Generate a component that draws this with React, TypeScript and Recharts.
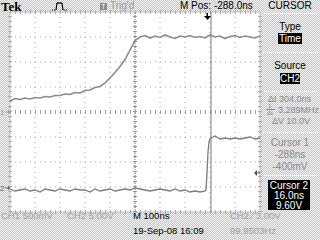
import React from "react";
import { LineChart, Line, XAxis, YAxis, CartesianGrid, ReferenceLine } from "recharts";

// ---- data (time in ns relative to trigger, values in volts) ----
const CH1_TIME_NS = [
  -788, -768, -748, -728, -708, -688, -668, -648, -628, -608,
  -588, -568, -548, -528, -508, -488, -468, -448, -428, -408,
  -388, -368, -348, -328, -308, -288, -268, -248, -228, -208,
  -188, -168, -148, -128, -108, -88, -68, -48, -28, -8,
  12, 32, 52, 72, 92, 112, 132, 152, 172, 192, 212,
];
const CH1_VOLTS = [
  0.22, 0.27, 0.25, 0.28, 0.26, 0.29, 0.28, 0.31, 0.30, 0.33,
  0.33, 0.36, 0.35, 0.39, 0.38, 0.43, 0.44, 0.49, 0.51, 0.58,
  0.68, 0.79, 0.91, 1.05, 1.24, 1.43, 1.50, 1.53, 1.48, 1.52,
  1.49, 1.54, 1.50, 1.47, 1.52, 1.50, 1.53, 1.49, 1.51, 1.48,
  1.54, 1.50, 1.52, 1.47, 1.51, 1.53, 1.49, 1.52, 1.50, 1.48, 1.52,
];
const CH2_TIME_NS = [
  -788, -768, -748, -728, -708, -688, -668, -648, -628, -608,
  -588, -568, -548, -528, -508, -488, -468, -448, -428, -408,
  -388, -368, -348, -328, -308, -288, -268, -248, -228, -208,
  -188, -168, -148, -128, -108, -88, -68, -48, -28, -8,
  -4, 0, 4, 8, 12, 16, 32, 52, 72, 92, 112, 132, 152, 172, 192, 212,
];
const CH2_VOLTS = [
  -0.2, -0.6, -0.4, -0.2, -0.6, -0.4, -0.8, -0.2, -0.4, -0.6,
  -0.2, -0.4, -0.6, -0.2, -0.4, -0.4, -0.8, -0.2, -0.6, -0.4,
  -0.2, -0.6, -0.4, -0.2, -0.4, 0.0, -0.2, -0.4, -0.6, -0.4,
  -0.2, -0.4, -0.6, -0.2, -0.6, -0.4, -0.8, -0.6, -0.8, -0.6,
  -0.4, 3.0, 7.2, 9.2, 9.8, 10.0, 10.4, 9.8, 10.0, 9.8, 10.0, 9.8, 10.0, 10.2, 9.8, 10.0,
];

const X_TICKS_NS = [-788, -688, -588, -488, -388, -288, -188, -88, 12, 112, 212];
const Y_TICKS_DIV = [-4, -3, -2, -1, 0, 1, 2, 3, 4];

const CH1_VOLTS_PER_DIV = 0.5;
const CH2_VOLTS_PER_DIV = 5;
const CH1_OFFSET_DIV = 0;
const CH2_OFFSET_DIV = -3.04;
const TRIGGER_LEVEL_V = 3.0;
const TRIGGER_NS = 0;
const CURSOR1_NS = -288;
const CURSOR2_NS = 16;

// ---- build table ----
const rowMap = new Map<number, any>();
CH1_TIME_NS.forEach((t, i) => {
  const r = rowMap.get(t) ?? { t };
  r.ch1 = CH1_VOLTS[i] / CH1_VOLTS_PER_DIV + CH1_OFFSET_DIV;
  rowMap.set(t, r);
});
CH2_TIME_NS.forEach((t, i) => {
  const r = rowMap.get(t) ?? { t };
  r.ch2 = CH2_VOLTS[i] / CH2_VOLTS_PER_DIV + CH2_OFFSET_DIV;
  rowMap.set(t, r);
});
const DATA = Array.from(rowMap.values()).sort((a, b) => a.t - b.t);

const FONT = "'Liberation Sans', Arial, sans-serif";
const GRAY_TXT = "#8a8a8a";

function Txt(props: any) {
  const { x, y, children, color = "#000", size = 9, anchor = "left", bold = false, family = FONT } = props;
  const style: React.CSSProperties = {
    position: "absolute",
    top: y - size / 2,
    fontSize: size,
    lineHeight: `${size}px`,
    color,
    whiteSpace: "nowrap",
    fontFamily: family,
    fontWeight: bold ? 700 : 400,
  };
  if (anchor === "left") style.left = x;
  else if (anchor === "center") {
    style.left = x;
    style.transform = "translateX(-50%)";
  } else style.right = 320 - x;
  return <div style={style}>{children}</div>;
}

function InvBox(props: any) {
  const { x, y, w, h, children } = props;
  return (
    <div style={{ position: "absolute", left: x, top: y, width: w, height: h, background: "#000" }}>
      {children}
    </div>
  );
}

function Sep(props: any) {
  return <div style={{ position: "absolute", left: 263, top: props.y, width: 55, height: 1, background: "#f2f2f2" }} />;
}

const ChannelMarker = (props: any) => {
  const vb = props.viewBox;
  if (!vb) return null;
  const x = vb.x;
  const y = vb.y;
  return (
    <g fill={props.color}>
      <text x={x - 10} y={y + 3} fontSize={8} fontFamily={FONT}>{props.text}</text>
      <path d={`M${x - 5},${y - 0.5} L${x - 2},${y - 0.5} L${x - 2},${y - 2.5} L${x},${y} L${x - 2},${y + 2.5} L${x - 2},${y + 0.5} L${x - 5},${y + 0.5} Z`} />
    </g>
  );
};

const TrigPosMarker = (props: any) => {
  const vb = props.viewBox;
  if (!vb) return null;
  const x = vb.x;
  const y = vb.y;
  return (
    <g fill="#000">
      <rect x={x - 0.5} y={y + 1} width={1.5} height={4} />
      <path d={`M${x - 3},${y + 4} L${x + 4},${y + 4} L${x + 0.5},${y + 8} Z`} />
    </g>
  );
};

const TrigLevelMarker = (props: any) => {
  const vb = props.viewBox;
  if (!vb) return null;
  const xe = vb.x + vb.width;
  const y = vb.y;
  return (
    <g fill="#555">
      <path d={`M${xe - 6},${y} L${xe - 3},${y - 3} L${xe - 3},${y + 3} Z`} />
      <rect x={xe - 4} y={y - 0.5} width={4} height={1} />
    </g>
  );
};

export default function App() {
  return (
    <div
      style={{
        position: "absolute",
        left: 0,
        top: 0,
        width: 320,
        height: 240,
        overflow: "hidden",
        backgroundImage: "repeating-conic-gradient(#c4c4c4 0% 25%, #f6f6f6 0% 50%)",
        backgroundSize: "2px 2px",
        fontFamily: FONT,
      }}
    >
      <div style={{ position: "absolute", left: 0, top: 0 }}>
        <LineChart width={320} height={240} data={DATA} margin={{ top: 12, right: 60, bottom: 28, left: 10 }}>
          <CartesianGrid stroke="#a8a8a8" strokeDasharray="1 4" fill="#ffffff" fillOpacity={1} />
          <XAxis dataKey="t" type="number" domain={[-788, 212]} ticks={X_TICKS_NS} interval={0} hide />
          <YAxis type="number" domain={[-4, 4]} ticks={Y_TICKS_DIV} interval={0} hide />
          {/* border */}
          <ReferenceLine x={-788} stroke="#c0c0c0" />
          <ReferenceLine x={212} stroke="#c0c0c0" />
          <ReferenceLine y={4} stroke="#c0c0c0" />
          <ReferenceLine y={-4} stroke="#c0c0c0" />
          <ReferenceLine x={-788} stroke="#b0b0b0" strokeWidth={4} strokeDasharray="1 4" />
          <ReferenceLine x={212} stroke="#b0b0b0" strokeWidth={4} strokeDasharray="1 4" />
          <ReferenceLine y={4} stroke="#b0b0b0" strokeWidth={4} strokeDasharray="1 4" />
          <ReferenceLine y={-4} stroke="#b0b0b0" strokeWidth={4} strokeDasharray="1 4" />
          {/* centre crosshair with minor ticks */}
          <ReferenceLine y={CH1_OFFSET_DIV} stroke="#a0a0a0" strokeWidth={4} strokeDasharray="1 4"
            label={<ChannelMarker text="1" color="#9a9a9a" />} />
          <ReferenceLine x={CURSOR1_NS} stroke="#a0a0a0" strokeWidth={4} strokeDasharray="1 4" />
          {/* cursors */}
          <ReferenceLine x={CURSOR1_NS} stroke="#7a7a7a" strokeDasharray="1 1" />
          <ReferenceLine x={CURSOR2_NS} stroke="#7a7a7a" />
          {/* markers */}
          <ReferenceLine y={CH2_OFFSET_DIV} stroke="none" label={<ChannelMarker text="2" color="#666" />} />
          <ReferenceLine y={CH2_OFFSET_DIV + TRIGGER_LEVEL_V / CH2_VOLTS_PER_DIV} stroke="none" label={<TrigLevelMarker />} />
          <ReferenceLine x={TRIGGER_NS} stroke="none" label={<TrigPosMarker />} />
          <Line dataKey="ch1" type="linear" stroke="#8c8c8c" strokeWidth={1.6} dot={false} connectNulls isAnimationActive={false} />
          <Line dataKey="ch2" type="linear" stroke="#7c7c7c" strokeWidth={1.3} dot={false} connectNulls isAnimationActive={false} />
        </LineChart>
      </div>

      {/* header */}
      <Txt x={1} y={6} size={13} bold family="'Liberation Serif', 'Times New Roman', serif">Tek</Txt>
      <svg style={{ position: "absolute", left: 50, top: 1 }} width={20} height={11}>
        <path d="M2,9 L6,9 L7,2 L12,2 L13,9 L18,9" stroke="#000" strokeWidth={1} fill="none" strokeDasharray="1 1" />
        <path d="M6,9 L7,2 L12,2 L13,9" stroke="#000" strokeWidth={1} fill="none" />
      </svg>
      <div style={{ position: "absolute", left: 100, top: 3, width: 7, height: 7, background: "#8a8a8a" }}>
        <div style={{ fontSize: 7, lineHeight: "7px", color: "#fff", textAlign: "center", fontFamily: FONT }}>T</div>
      </div>
      <Txt x={110} y={6} color="#9a9a9a" size={10}>Trig'd</Txt>
      <Txt x={180} y={6} size={10}>M Pos: -288.0ns</Txt>
      <Txt x={290} y={6} size={10} anchor="center">CURSOR</Txt>

      {/* right menu */}
      <Sep y={13} />
      <Txt x={290} y={27} size={10} anchor="center">Type</Txt>
      <InvBox x={278} y={33} w={24} h={11}>
        <Txt x={12} y={5.5} size={10} color="#fff" anchor="center">Time</Txt>
      </InvBox>
      <Sep y={52} />
      <Txt x={290} y={66} size={10} anchor="center">Source</Txt>
      <InvBox x={280} y={73} w={20} h={11}>
        <Txt x={10} y={5.5} size={10} color="#fff" anchor="center">CH2</Txt>
      </InvBox>
      <Sep y={91} />
      <Txt x={268} y={99} size={9} color={GRAY_TXT}>Δt 304.0ns</Txt>
      <Txt x={268} y={106} size={6} color={GRAY_TXT}>1</Txt>
      <div style={{ position: "absolute", left: 266, top: 109, width: 9, height: 1, background: GRAY_TXT }} />
      <Txt x={267} y={113} size={6} color={GRAY_TXT}>Δt</Txt>
      <Txt x={278} y={110} size={9} color={GRAY_TXT}>3.289MHz</Txt>
      <Txt x={272} y={121} size={9} color={GRAY_TXT}>ΔV 10.0V</Txt>
      <Sep y={132} />
      <Txt x={290} y={143} size={10} color={GRAY_TXT} anchor="center">Cursor 1</Txt>
      <Txt x={290} y={155} size={10} color={GRAY_TXT} anchor="center">-288ns</Txt>
      <Txt x={290} y={167} size={10} color={GRAY_TXT} anchor="center">-400mV</Txt>
      <Sep y={175} />
      <InvBox x={268} y={180} w={42} h={30}>
        <Txt x={21} y={6} size={10} color="#fff" anchor="center">Cursor 2</Txt>
        <Txt x={21} y={16} size={10} color="#fff" anchor="center">16.0ns</Txt>
        <Txt x={21} y={25.5} size={10} color="#fff" anchor="center">9.60V</Txt>
      </InvBox>

      {/* footer */}
      <Txt x={1} y={216} size={9.5} color="#a0a0a0">CH1  500mV</Txt>
      <Txt x={67} y={216} size={9.5} color="#a0a0a0">CH2  5.00V</Txt>
      <Txt x={133} y={216} size={9.5}>M 100ns</Txt>
      <Txt x={230} y={216} size={9.5} color="#a0a0a0">CH2 ∕ 3.00V</Txt>
      <Txt x={133} y={231} size={9.5}>19-Sep-08 16:09</Txt>
      <Txt x={230} y={231} size={9.5} color="#a0a0a0">99.9503Hz</Txt>
    </div>
  );
}
